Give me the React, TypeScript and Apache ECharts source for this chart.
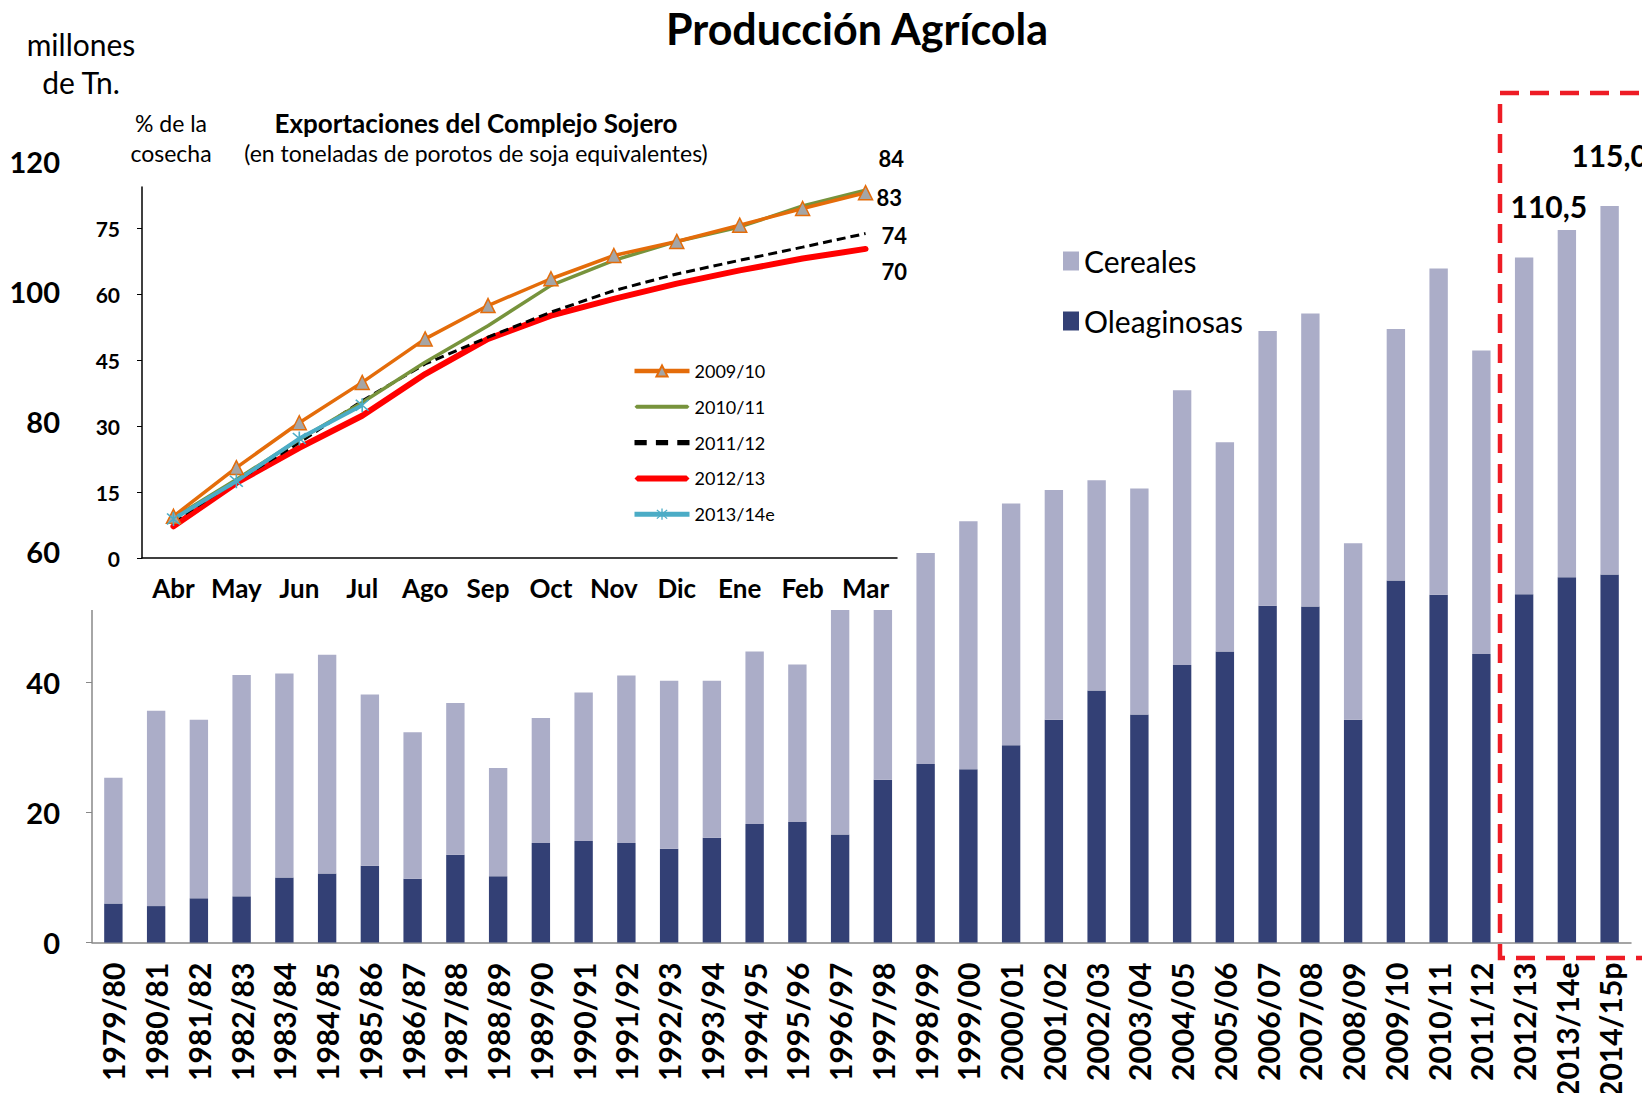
import React, { useEffect, useRef } from 'react';
import * as echarts from 'echarts';

const FONT = 'Lato';

const years = ['1979/80','1980/81','1981/82','1982/83','1983/84','1984/85','1985/86','1986/87','1987/88','1988/89','1989/90','1990/91','1991/92','1992/93','1993/94','1994/95','1995/96','1996/97','1997/98','1998/99','1999/00','2000/01','2001/02','2002/03','2003/04','2004/05','2005/06','2006/07','2007/08','2008/09','2009/10','2010/11','2011/12','2012/13','2013/14e','2014/15p'];
const oleaginosas = [6.0,5.6,6.8,7.1,10.0,10.6,11.8,9.8,13.5,10.2,15.3,15.6,15.3,14.4,16.1,18.2,18.5,16.6,25.0,27.4,26.6,30.3,34.2,38.7,35.0,42.6,44.7,51.7,51.6,34.2,55.6,53.4,44.3,53.5,56.1,56.5];
const cereales = [19.3,30.0,27.4,34.0,31.3,33.6,26.3,22.5,23.3,16.6,19.2,22.8,25.7,25.8,24.1,26.5,24.2,36.9,40.0,32.4,38.1,37.1,35.3,32.3,34.7,42.2,32.1,42.2,45.0,27.1,38.6,50.1,46.6,51.7,53.3,56.6];
const barYTicks = { min: 0, max: 120, interval: 20 };
const labelYears = ['2013/14e', '2014/15p'];
const labelTexts = ['110,5', '115,0'];
const labelDistances = [9, 36];

const months = ['Abr','May','Jun','Jul','Ago','Sep','Oct','Nov','Dic','Ene','Feb','Mar'];
const s0910 = [9.5,20.6,30.8,40.0,49.9,57.5,63.6,68.9,72.1,75.8,79.6,83.2];
const s1011 = [9.1,17.9,27.0,35.4,44.6,52.9,62.1,67.8,72.1,75.4,80.2,83.8];
const s1112 = [8.4,17.5,26.3,35.8,44.2,50.3,56.0,60.9,64.7,67.8,70.8,73.9];
const s1213 = [7.2,17.1,25.1,32.4,41.9,49.9,55.2,59.0,62.5,65.5,68.2,70.4];
const s1314 = [8.9,17.5,27.2,34.8];
const lineYTicks = { min: 0, max: 84.5, interval: 15 };

const asterisk = 'path://M9,0 L11,0 L11,20 L9,20 Z M1.4,2.8 L2.8,1.4 L18.6,17.2 L17.2,18.6 Z M17.2,1.4 L18.6,2.8 L2.8,18.6 L1.4,17.2 Z';
const iconSolid = 'path://M2,0 L53,0 L55,2 L53,4 L2,4 L0,2 Z';
const iconThick = 'path://M3,0 L52,0 L55,3 L52,6 L3,6 L0,3 Z';
const iconDash = 'path://M0,0 L12,0 L12,5 L0,5 Z M21,0 L33,0 L33,5 L21,5 Z M42,0 L54,0 L54,5 L42,5 Z';

export default function App() {
  const ref = useRef<HTMLDivElement>(null);
  useEffect(() => {
    if (!ref.current) return;
    const chart = echarts.init(ref.current, undefined, { renderer: 'svg' });
    const txt = (text: string, x: number, y: number, size: number, bold = false, align = 'center') => ({
      type: 'text', z: 30, x, y,
      style: { text, fontFamily: FONT, fontSize: size, fontWeight: bold ? 'bold' : 'normal', fill: '#000', textAlign: align, textVerticalAlign: 'middle' },
    });
    const endLabel = (dx: number, dy: number) => ({
      show: true, distance: 0, offset: [dx, dy], align: 'left', verticalAlign: 'middle',
      fontFamily: FONT, fontSize: 22, fontWeight: 'bold', color: '#000',
      formatter: (p: any) => String(Math.round(Array.isArray(p.value) ? p.value[1] : p.value)),
    });
    const option: any = {
      animation: false,
      textStyle: { fontFamily: FONT },
      grid: [
        { left: 92, right: 19, top: 161, bottom: 157 },
        { left: 142, right: 753, top: 187, bottom: 543 },
      ],
      xAxis: [
        {
          type: 'category', gridIndex: 0, data: years, z: 1,
          axisLine: { lineStyle: { color: '#888', width: 1.5 } },
          axisTick: { inside: true, length: 10, lineStyle: { color: '#888' } },
          axisLabel: { rotate: 90, interval: 0, margin: 20, fontSize: 30, fontWeight: 'bold', color: '#000', fontFamily: FONT },
        },
        {
          type: 'category', gridIndex: 1, data: months, z: 11,
          axisLine: { lineStyle: { color: '#000', width: 1.5 } },
          axisTick: { inside: true, length: 8, lineStyle: { color: '#000' } },
          axisLabel: { interval: 0, margin: 17, fontSize: 26, fontWeight: 'bold', color: '#000', fontFamily: FONT },
        },
      ],
      yAxis: [
        {
          type: 'value', gridIndex: 0, ...barYTicks, z: 1,
          splitLine: { show: false },
          axisLine: { show: true, lineStyle: { color: '#888', width: 1.5 } },
          axisTick: { show: true, length: 6, lineStyle: { color: '#888' } },
          axisLabel: { margin: 32, fontSize: 29, fontWeight: 'bold', color: '#000', fontFamily: FONT },
        },
        {
          type: 'value', gridIndex: 1, ...lineYTicks, z: 11,
          splitLine: { show: false },
          axisLine: { show: true, lineStyle: { color: '#000', width: 1.5 } },
          axisTick: { show: true, length: 5, lineStyle: { color: '#000' } },
          axisLabel: { margin: 22, fontSize: 21, fontWeight: 'bold', color: '#000', fontFamily: FONT, showMaxLabel: false },
        },
      ],
      legend: [
        {
          data: [
            { name: '2009/10', lineStyle: { width: 4.5 } },
            { name: '2010/11', icon: iconSolid },
            { name: '2011/12', icon: iconDash },
            { name: '2012/13', icon: iconThick },
            { name: '2013/14e', lineStyle: { width: 5 } },
          ],
          orient: 'vertical', left: 627, top: 357, itemWidth: 55, itemHeight: 14, itemGap: 17.8, z: 13,
          symbolKeepAspect: true,
          textStyle: { fontSize: 18, color: '#000', fontFamily: FONT, lineHeight: 18 },
        },
        {
          data: ['Cereales', 'Oleaginosas'], icon: 'rect',
          orient: 'vertical', left: 1058, top: 241, itemWidth: 16, itemHeight: 19, itemGap: 30, z: 13,
          textStyle: { fontSize: 30, color: '#000', fontFamily: FONT, lineHeight: 30 },
        },
      ],
      series: [
        {
          name: 'Oleaginosas', type: 'bar', stack: 'total', xAxisIndex: 0, yAxisIndex: 0, z: 2,
          barWidth: '43%', itemStyle: { color: '#334075' }, data: oleaginosas,
        },
        {
          name: 'Cereales', type: 'bar', stack: 'total', xAxisIndex: 0, yAxisIndex: 0, z: 2,
          barWidth: '43%', itemStyle: { color: '#ABADC8' },
          data: cereales.map((v, i) => {
            const k = labelYears.indexOf(years[i]);
            if (k < 0) return v;
            return {
              value: v,
              label: {
                show: true, position: 'top', distance: labelDistances[k], formatter: labelTexts[k],
                fontSize: 30, fontWeight: 'bold', color: '#000', fontFamily: FONT,
                offset: [k === 0 ? -18 : 0, 0],
              },
            };
          }),
        },
        {
          name: '2012/13', type: 'line', xAxisIndex: 1, yAxisIndex: 1, z: 12, data: s1213,
          showSymbol: false, symbol: 'none', lineStyle: { color: '#FF0000', width: 6, cap: 'round' }, itemStyle: { color: '#FF0000' },
          endLabel: endLabel(16, 23),
        },
        {
          name: '2011/12', type: 'line', xAxisIndex: 1, yAxisIndex: 1, z: 12, data: s1112,
          showSymbol: false, symbol: 'none', lineStyle: { color: '#000', width: 3, type: [9, 5] }, itemStyle: { color: '#000' },
          endLabel: endLabel(16, 2),
        },
        {
          name: '2010/11', type: 'line', xAxisIndex: 1, yAxisIndex: 1, z: 12, data: s1011,
          showSymbol: false, symbol: 'none', lineStyle: { color: '#77933C', width: 3.5 }, itemStyle: { color: '#77933C' },
          endLabel: endLabel(13, -32),
        },
        {
          name: '2009/10', type: 'line', xAxisIndex: 1, yAxisIndex: 1, z: 12, data: s0910,
          symbol: 'triangle', symbolSize: 14, showSymbol: true,
          lineStyle: { color: '#E46C0A', width: 3.5 },
          itemStyle: { color: '#A5A5A5', borderColor: '#E46C0A', borderWidth: 1.5 },
          endLabel: endLabel(11, 5),
        },
        {
          name: '2013/14e', type: 'line', xAxisIndex: 1, yAxisIndex: 1, z: 12, data: s1314,
          symbol: asterisk, symbolSize: 14, showSymbol: true,
          lineStyle: { color: '#4BACC6', width: 4 },
          itemStyle: { color: '#4BACC6' },
        },
      ],
      graphic: [
        { type: 'rect', z: 10, shape: { x: 70, y: 98, width: 832, height: 512 }, style: { fill: '#fff' } },
        {
          type: 'rect', z: 25, shape: { x: 1500, y: 93, width: 200, height: 865 },
          style: { fill: 'none', stroke: '#EE1C25', lineWidth: 4.5, lineDash: [19, 11] },
        },
        txt('Producción Agrícola', 857, 28, 43, true),
        txt('millones', 81, 44, 30),
        txt('de Tn.', 81, 82, 30),
        txt('% de la', 171, 123, 23),
        txt('cosecha', 171, 153, 23),
        txt('Exportaciones del Complejo Sojero', 476, 123, 26, true),
        txt('(en toneladas de porotos de soja equivalentes)', 476, 153, 23),
      ],
    };
    chart.setOption(option);
    return () => chart.dispose();
  }, []);
  return <div ref={ref} style={{ width: 1650, height: 1101, margin: -8, background: '#fff' }} />;
}
